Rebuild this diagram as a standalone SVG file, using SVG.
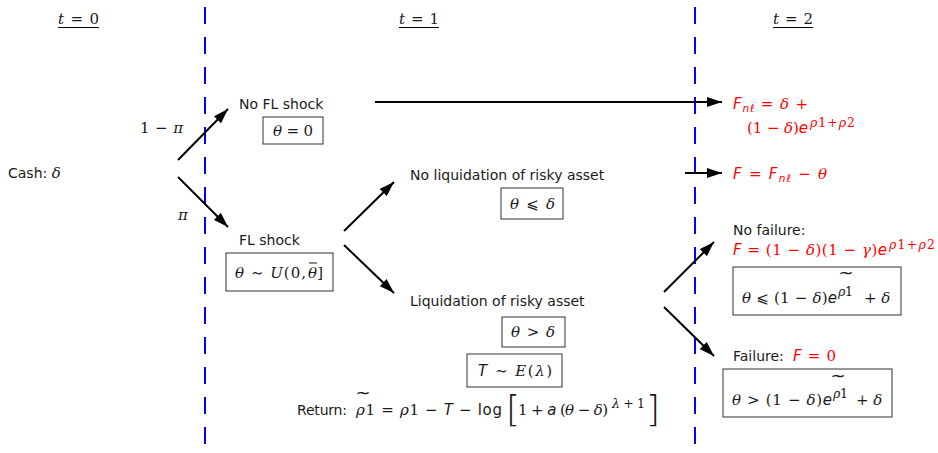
<svg xmlns="http://www.w3.org/2000/svg" width="938" height="453" viewBox="0 0 938 453">
<defs>
<marker id="ah" markerUnits="userSpaceOnUse" markerWidth="15" markerHeight="10" refX="15" refY="5" orient="auto"><path d="M0,0 L15,5 L0,10 z" fill="#000"/></marker>
<style>
text{font-family:"DejaVu Sans","Liberation Sans",sans-serif;font-size:14px;fill:#1a1a1a}
.m{font-family:"DejaVu Serif","Liberation Serif",serif;font-size:15px}
.i{font-style:italic}
.s{font-family:"DejaVu Sans",sans-serif;font-style:italic}
.sup{font-size:12.5px}
.sub{font-size:10.5px}
.red,.red tspan{fill:#f00}
.til{font-family:"DejaVu Sans",sans-serif;font-size:18px}
.br{font-family:"DejaVu Sans",sans-serif;font-size:36px;font-weight:200}
.box{fill:none;stroke:#333;stroke-width:1}
.dash{stroke:#00f;stroke-width:2;stroke-dasharray:17 13}
.arr{stroke:#000;stroke-width:2;fill:none;marker-end:url(#ah)}
.ul{stroke:#000;stroke-width:1.2}
</style>
</defs>
<rect width="938" height="453" fill="#fff"/>

<g id="timeline">
<line class="dash" x1="205" y1="7" x2="205" y2="453"/>
<line class="dash" x1="695" y1="7" x2="695" y2="453"/>
<text x="58" y="24" class="m" textLength="41"><tspan class="i">t</tspan> = 0</text>
<line class="ul" x1="58" y1="27.5" x2="99" y2="27.5"/>
<text x="399" y="24" class="m" textLength="40"><tspan class="i">t</tspan> = 1</text>
<line class="ul" x1="399" y1="27.5" x2="439" y2="27.5"/>
<text x="773" y="24" class="m" textLength="40"><tspan class="i">t</tspan> = 2</text>
<line class="ul" x1="773" y1="27.5" x2="813" y2="27.5"/>
</g>

<g id="connectors">
<line class="arr" x1="178" y1="160" x2="228" y2="109"/>
<line class="arr" x1="178" y1="177" x2="228" y2="227"/>
<line class="arr" x1="344" y1="231" x2="394" y2="182"/>
<line class="arr" x1="344" y1="245" x2="394" y2="293"/>
<line class="arr" x1="375" y1="102" x2="722" y2="102"/>
<line class="arr" x1="685" y1="173" x2="722" y2="173"/>
<line class="arr" x1="664" y1="292" x2="714" y2="242"/>
<line class="arr" x1="664" y1="307" x2="714" y2="356"/>
<text x="140" y="133" class="m" textLength="43">1 − <tspan class="i">π</tspan></text>
<text x="178" y="220" class="m i">π</text>
</g>

<g id="cash">
<text x="8" y="178">Cash: <tspan class="m i">δ</tspan></text>
</g>

<g id="no-fl-shock">
<text x="239" y="109">No FL shock</text>
<rect class="box" x="263" y="117" width="60" height="27"/>
<text x="273" y="136" class="m" textLength="40"><tspan class="i">θ</tspan> = 0</text>
</g>

<g id="fl-shock">
<text x="239" y="245">FL shock</text>
<rect class="box" x="226" y="253" width="107" height="38"/>
<text x="235" y="278" class="m" textLength="71"><tspan class="i">θ</tspan> ∼ <tspan class="i">U</tspan>(0,</text>
<text x="308" y="278" class="m" textLength="15"><tspan class="i">θ</tspan>]</text>
<line x1="309" y1="263" x2="317" y2="263" stroke="#1a1a1a" stroke-width="1"/>
</g>

<g id="no-liquidation">
<text x="410" y="180">No liquidation of risky asset</text>
<rect class="box" x="501" y="188" width="62" height="31"/>
<text x="510" y="209" class="m" textLength="45"><tspan class="i">θ</tspan> <tspan font-family="DejaVu Sans">⩽</tspan> <tspan class="i">δ</tspan></text>
</g>

<g id="liquidation">
<text x="410" y="306">Liquidation of risky asset</text>
<rect class="box" x="502" y="317" width="63" height="30"/>
<text x="511" y="337" class="m" textLength="44"><tspan class="i">θ</tspan> &gt; <tspan class="i">δ</tspan></text>
<rect class="box" x="467" y="354" width="95" height="33"/>
<text x="478" y="376" class="m" textLength="74"><tspan class="s">T</tspan> ∼ <tspan class="i">E</tspan>(<tspan class="i">λ</tspan>)</text>
<text x="297" y="415" textLength="50">Return:</text>
<text x="363" y="399" text-anchor="middle" class="til" textLength="14">~</text>
<text x="356" y="415" class="m" textLength="146"><tspan class="i">ρ</tspan>1 = <tspan class="i">ρ</tspan>1 − <tspan class="s">T</tspan> − <tspan font-family="DejaVu Sans">log</tspan></text>
<text x="506" y="421" class="br">[</text>
<text x="518" y="415" class="m" textLength="90">1 + <tspan class="s">a</tspan> (<tspan class="i">θ</tspan> − <tspan class="i">δ</tspan>)</text>
<text x="612" y="408" class="m sup" textLength="33"><tspan class="i">λ</tspan>+1</text>
<text x="646" y="421" class="br">]</text>
</g>

<g id="no-liquidation-outcome">
<text x="733" y="109" class="m red" textLength="75"><tspan class="s">F</tspan><tspan class="s sub" dy="3">nℓ</tspan><tspan dy="-3"> = </tspan><tspan class="i">δ</tspan> +</text>
<text x="747" y="133" class="m red" textLength="61">(1 − <tspan class="i">δ</tspan>)<tspan class="s">e</tspan></text>
<text x="810" y="127" class="m sup red" textLength="45"><tspan class="i">ρ</tspan>1+<tspan class="i">ρ</tspan>2</text>
<text x="733" y="179" class="m red" textLength="94"><tspan class="s">F</tspan> = <tspan class="s">F</tspan><tspan class="s sub" dy="3">nℓ</tspan><tspan dy="-3"> − </tspan><tspan class="i">θ</tspan></text>
</g>

<g id="no-failure">
<text x="733" y="235">No failure:</text>
<text x="733" y="255" class="m red" textLength="154"><tspan class="s">F</tspan> = (1 − <tspan class="i">δ</tspan>)(1 − <tspan class="i">γ</tspan>)<tspan class="s">e</tspan></text>
<text x="889" y="249" class="m sup red" textLength="46"><tspan class="i">ρ</tspan>1+<tspan class="i">ρ</tspan>2</text>
<rect class="box" x="733" y="267" width="168" height="48"/>
<text x="846" y="279" text-anchor="middle" class="til" textLength="13">~</text>
<text x="742" y="303" class="m" textLength="95"><tspan class="i">θ</tspan> <tspan font-family="DejaVu Sans">⩽</tspan> (1 − <tspan class="i">δ</tspan>)<tspan class="s">e</tspan></text>
<text x="838" y="296" class="m sup" textLength="15"><tspan class="i">ρ</tspan>1</text>
<text x="864" y="303" class="m">+ <tspan class="i">δ</tspan></text>
</g>

<g id="failure">
<text x="733" y="361">Failure: </text>
<text x="793" y="361" class="m red" textLength="43"><tspan class="s">F</tspan> = 0</text>
<rect class="box" x="723" y="369" width="169" height="48"/>
<text x="838" y="382" text-anchor="middle" class="til" textLength="13">~</text>
<text x="732" y="405" class="m" textLength="100"><tspan class="i">θ</tspan> &gt; (1 − <tspan class="i">δ</tspan>)<tspan class="s">e</tspan></text>
<text x="833" y="398" class="m sup" textLength="15"><tspan class="i">ρ</tspan>1</text>
<text x="856" y="405" class="m">+ <tspan class="i">δ</tspan></text>
</g>
</svg>
